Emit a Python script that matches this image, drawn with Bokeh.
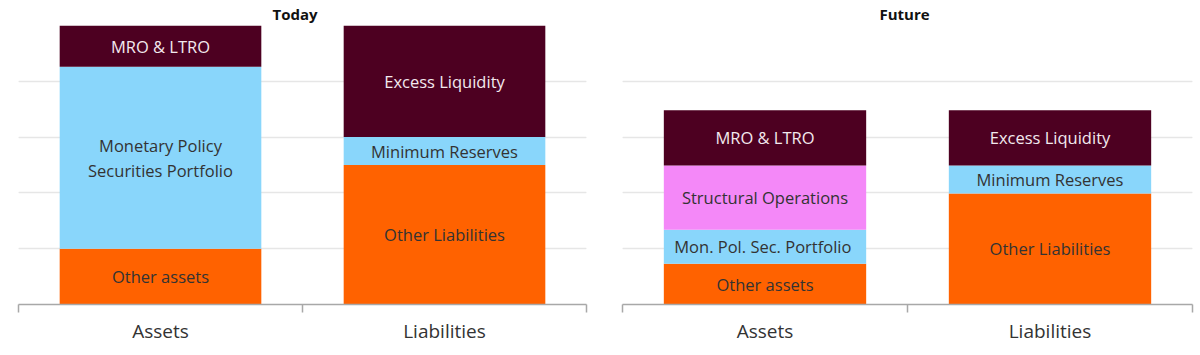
from bokeh.plotting import figure
from bokeh.models import FixedTicker, Grid, Range1d, ColumnDataSource
from bokeh.layouts import row
from bokeh.embed import file_html
from bokeh.resources import INLINE
from bokeh.core.properties import value

# ---------------- data ----------------
categories = ["Assets", "Liabilities"]

today_assets_labels = ["Other assets", "Monetary Policy\nSecurities Portfolio", "MRO & LTRO"]
today_assets_values = [1.0, 3.26, 0.74]
today_liab_labels = ["Other Liabilities", "Minimum Reserves", "Excess Liquidity"]
today_liab_values = [2.5, 0.5, 2.0]

future_assets_labels = ["Other assets", "Mon. Pol. Sec.  Portfolio", "Structural Operations", "MRO & LTRO"]
future_assets_values = [0.73, 0.61, 1.15, 0.99]
future_liab_labels = ["Other Liabilities", "Minimum Reserves", "Excess Liquidity"]
future_liab_values = [1.99, 0.5, 0.99]

grid_levels = [1, 2, 3, 4, 5]

# ---------------- styles ----------------
MAROON = "#4d0021"
BLUE = "#89d6fb"
ORANGE = "#ff6200"
PINK = "#f488f8"
color_map = {
    "Other assets": ORANGE, "Other Liabilities": ORANGE,
    "Monetary Policy\nSecurities Portfolio": BLUE, "Mon. Pol. Sec.  Portfolio": BLUE,
    "Minimum Reserves": BLUE,
    "Structural Operations": PINK,
    "MRO & LTRO": MAROON, "Excess Liquidity": MAROON,
}
FONT = "Open Sans"


def make_panel(title, stacks, border_left, border_right, frame_w, title_offset):
    xs, bottoms, tops, mids, labels, colors, tcolors = [], [], [], [], [], [], []
    for i, (labs, vals) in enumerate(stacks):
        base = 0.0
        for lab, v in zip(labs, vals):
            xs.append(i + 0.5)
            bottoms.append(base)
            tops.append(base + v)
            mids.append(base + v / 2)
            labels.append(lab)
            c = color_map[lab]
            colors.append(c)
            tcolors.append("#f3e9ee" if c == MAROON else "#333333")
            base += v
    src = ColumnDataSource(dict(x=xs, bottom=bottoms, top=tops, mid=mids,
                                label=labels, color=colors, tcolor=tcolors))

    p = figure(frame_width=frame_w, frame_height=279,
               x_range=Range1d(0, len(categories)), y_range=Range1d(0, 5),
               y_axis_location=None, toolbar_location=None,
               output_backend="svg", title=title,
               min_border_left=border_left, min_border_right=border_right,
               min_border_top=0, min_border_bottom=0)
    p.outline_line_color = None
    p.xgrid.grid_line_color = None
    p.add_layout(Grid(dimension=1, ticker=FixedTicker(ticks=grid_levels),
                      grid_line_color="#e6e6e6", grid_line_width=1.5))

    p.vbar(x="x", bottom="bottom", top="top", width=0.71, source=src,
           fill_color="color", line_color=None)
    p.text(x="x", y="mid", text="label", source=src, text_color="tcolor",
           text_align="center", text_baseline="middle",
           text_font=value(FONT), text_font_size="16.5px", text_line_height=1.1)

    centers = [i + 0.5 for i in range(len(categories))]
    bounds = [float(i) for i in range(len(categories) + 1)]
    ax = p.xaxis[0]
    ax.ticker = FixedTicker(ticks=centers, minor_ticks=bounds)
    ax.major_label_overrides = {c: n for c, n in zip(centers, categories)}
    ax.major_tick_line_color = None
    ax.major_tick_out = 0
    ax.major_tick_in = 0
    ax.minor_tick_line_color = "#a8a8a8"
    ax.minor_tick_line_width = 1.5
    ax.minor_tick_out = 8
    ax.minor_tick_in = 0
    ax.axis_line_color = "#a8a8a8"
    ax.axis_line_width = 1.5
    ax.major_label_text_font = FONT
    ax.major_label_text_font_size = "19px"
    ax.major_label_text_color = "#333333"
    ax.major_label_standoff = 5

    p.title.text_font = FONT
    p.title.text_font_size = "15px"
    p.title.text_font_style = "bold"
    p.title.text_color = "#111111"
    p.title.align = "left"
    p.title.offset = title_offset
    p.title.standoff = 3
    return p


p1 = make_panel("Today", [(today_assets_labels, today_assets_values),
                          (today_liab_labels, today_liab_values)],
                18, 18, 568, 254)
p2 = make_panel("Future", [(future_assets_labels, future_assets_values),
                           (future_liab_labels, future_liab_values)],
                18, 8, 570, 257)

layout = row(p1, p2)
open("out.html", "w").write(file_html(layout, INLINE))
